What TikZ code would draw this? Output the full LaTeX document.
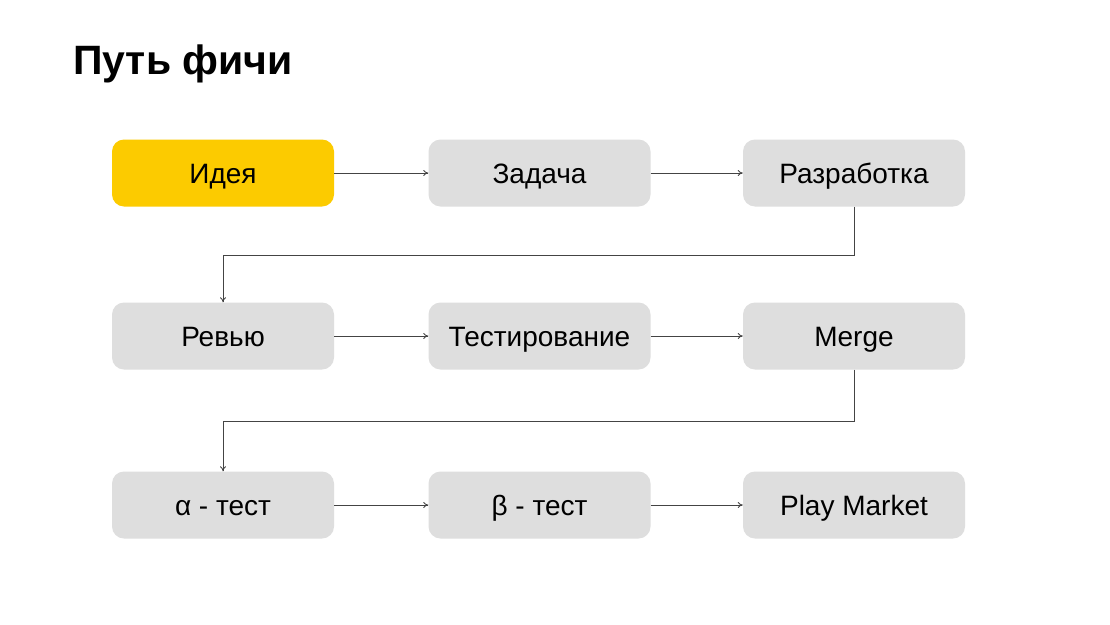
\documentclass[tikz,border=0pt]{standalone}
\usepackage{fontspec}
\setmainfont{Liberation Sans}
\usetikzlibrary{arrows.meta}
\definecolor{ideayellow}{HTML}{FCCB00}
\definecolor{boxgray}{HTML}{DEDEDE}
\definecolor{linegray}{HTML}{444444}
\tikzset{
  stepbox/.style={fill=boxgray, rounded corners=12pt, minimum width=222pt, minimum height=67pt, inner sep=0pt, font=\fontsize{28}{32}\selectfont, text=black, text height=20pt, text depth=0pt},
  ideabox/.style={stepbox, fill=ideayellow},
  link/.style={draw=linegray, line width=0.8pt, -{To[length=5pt,width=6pt]}},
}
\begin{document}
\begin{tikzpicture}[x=1pt,y=-1pt]
\useasboundingbox[fill=white] (0,0) rectangle (1110,624);
\node[anchor=base west, inner sep=0pt, font=\fontsize{41}{46}\selectfont\bfseries] (title) at (73,74) {Путь фичи};
\node[ideabox] (n1) at (223,173) {Идея};
\node[stepbox] (n2) at (539.5,173) {Задача};
\node[stepbox] (n3) at (854,173) {Разработка};
\node[stepbox] (n4) at (223,336) {Ревью};
\node[stepbox] (n5) at (539.5,336) {Тестирование};
\node[stepbox] (n6) at (854,336) {Merge};
\node[stepbox] (n7) at (223,505) {α - тест};
\node[stepbox] (n8) at (539.5,505) {β - тест};
\node[stepbox] (n9) at (854,505) {Play Market};
\draw[link] (n1) -- (n2);
\draw[link] (n2) -- (n3);
\draw[link] (n4) -- (n5);
\draw[link] (n5) -- (n6);
\draw[link] (n7) -- (n8);
\draw[link] (n8) -- (n9);
\draw[link] (n3.south) -- ++(0,48.5) -| (n4.north);
\draw[link] (n6.south) -- ++(0,51.5) -| (n7.north);
\end{tikzpicture}
\end{document}
